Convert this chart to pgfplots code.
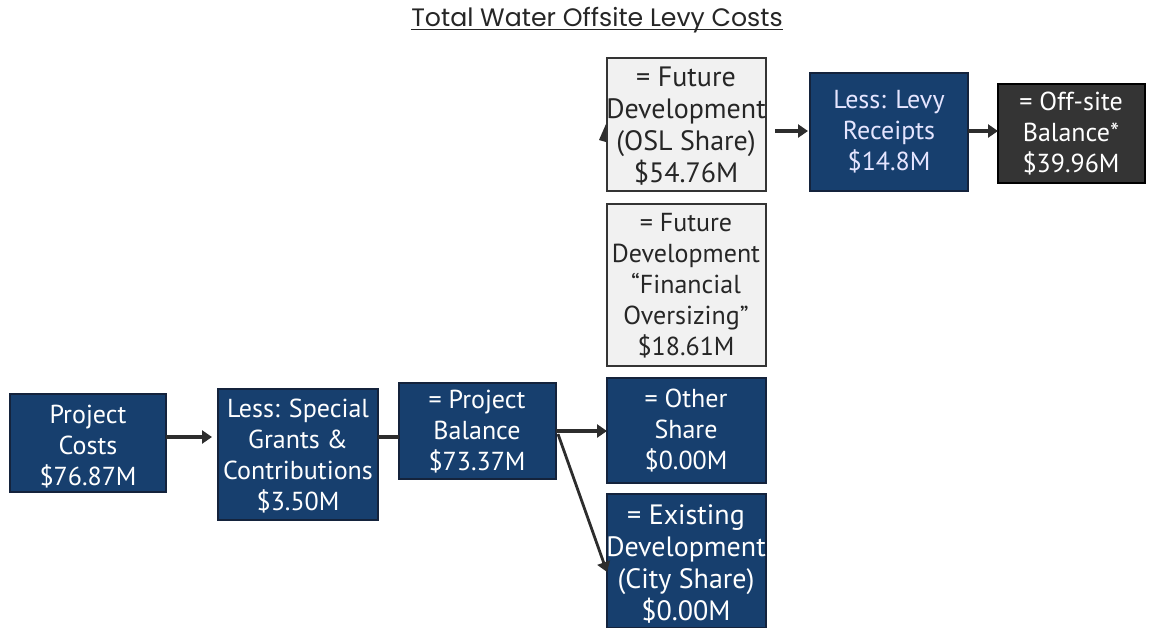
\documentclass[border=0pt]{standalone}
\usepackage{pgfplots}
\pgfplotsset{compat=1.18}
\usepackage{fontspec}
\setmainfont{PT Sans}
\newfontfamily\titlefont{Poppins}
\usetikzlibrary{arrows.meta}
\definecolor{navy}{RGB}{23,63,110}
\definecolor{navyedge}{RGB}{20,35,60}
\definecolor{darkbox}{RGB}{52,52,52}
\definecolor{lightbox}{RGB}{241,241,241}
\definecolor{arrowc}{RGB}{45,45,45}
\begin{document}
\begin{tikzpicture}
\begin{axis}[
  scale only axis, width=576pt, height=314pt,
  xmin=0, xmax=1152, ymin=0, ymax=628, y dir=reverse,
  hide axis, clip=false,
]
\path (axis cs:0,0) rectangle (axis cs:1152,628);
% boxes
\draw[fill=navy, draw=navyedge, line width=0.6pt] (axis cs:10,394) rectangle (axis cs:166,492);
\draw[fill=navy, draw=navyedge, line width=0.6pt] (axis cs:218,389) rectangle (axis cs:378,520);
\draw[fill=navy, draw=navyedge, line width=0.6pt] (axis cs:399,383) rectangle (axis cs:556,479);
\draw[fill=navy, draw=navyedge, line width=0.6pt] (axis cs:607,378) rectangle (axis cs:766,483);
\draw[fill=navy, draw=navyedge, line width=0.6pt] (axis cs:607,494) rectangle (axis cs:766,627.5);
\draw[fill=lightbox, draw=darkbox, line width=0.6pt] (axis cs:607,204) rectangle (axis cs:766,366);
\draw[fill=lightbox, draw=darkbox, line width=0.6pt] (axis cs:607,58) rectangle (axis cs:766,191);
\draw[fill=navy, draw=navyedge, line width=0.6pt] (axis cs:810,73) rectangle (axis cs:968,191);
\draw[fill=darkbox, draw=black, line width=0.6pt] (axis cs:998,84) rectangle (axis cs:1145,183);
% arrows
\draw[arrowc, line width=2pt] (axis cs:378,437) -- (axis cs:399,437);
\begin{scope}[arrowc, line width=2pt, -{Triangle[length=5pt,width=6.5pt]}]
\draw (axis cs:166,437) -- (axis cs:212,437);
\draw (axis cs:556,431) -- (axis cs:607,431);
\draw[line width=1.4pt] (axis cs:558,434) -- (axis cs:607,572);
\draw (axis cs:775,131) -- (axis cs:808,131);
\draw (axis cs:968,131) -- (axis cs:998,131);
\end{scope}
\fill[arrowc] (axis cs:599,140) -- (axis cs:606,124) -- (axis cs:606,142) -- cycle;
% texts
\begin{scope}[every node/.style={align=center, font=\fontsize{13}{15.5}\selectfont, inner sep=0pt}]
\node[text=white] at (axis cs:88,447) {Project\\Costs\\\$76.87M};
\node[text=white] at (axis cs:298,456) {Less: Special\\Grants \&\\Contributions\\\$3.50M};
\node[text=white] at (axis cs:477,432) {= Project\\Balance\\\$73.37M};
\node[text=white] at (axis cs:686,431) {= Other\\Share\\\$0.00M};
\node[text=white, font=\fontsize{14}{16}\selectfont] at (axis cs:686,564) {= Existing\\Development\\(City Share)\\\$0.00M};
\node[text=black!85] at (axis cs:686,286) {= Future\\Development\\``Financial\\Oversizing''\\\$18.61M};
\node[text=black!85, font=\fontsize{14}{16}\selectfont] at (axis cs:686,126) {= Future\\Development\\(OSL Share)\\\$54.76M};
\node[text=white!90!blue] at (axis cs:889,132) {Less: Levy\\Receipts\\\$14.8M};
\node[text=white] at (axis cs:1071,134) {= Off-site\\Balance*\\\$39.96M};
\end{scope}
\node[font=\titlefont\fontsize{12.6}{15}\selectfont, text=black!85, inner sep=0pt, anchor=base] (t) at (axis cs:597,26) {Total Water Offsite Levy Costs};
\draw[black!85, line width=0.5pt] ([yshift=-1.8pt]t.base west) -- ([yshift=-1.8pt]t.base east);
\end{axis}
\end{tikzpicture}
\end{document}
